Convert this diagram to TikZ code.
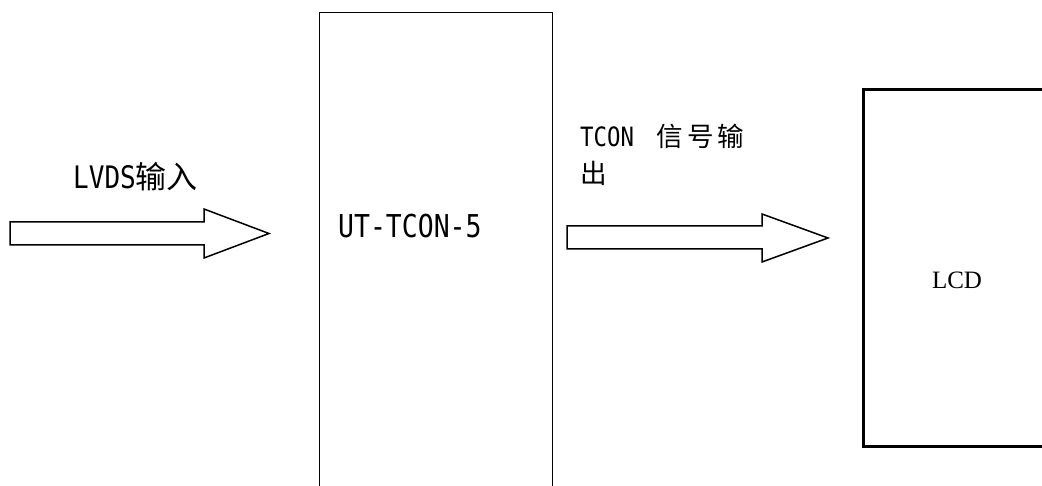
\documentclass[tikz,border=0pt]{standalone}
\usepackage{fontspec}
\newfontfamily\latf[FakeStretch=0.84]{DejaVu Sans Mono}
\newfontfamily\cjkf{Noto Sans CJK SC}
\newfontfamily\serf{Liberation Serif}
\begin{document}
\begin{tikzpicture}[x=1pt,y=-1pt,
  blockbox/.style={draw=black,line width=1.2pt,fill=none},
  lcdbox/.style={draw=black,line width=3pt,fill=none},
  blockarrow/.style={draw=black,line width=1.5pt,fill=white,line join=miter},
  lbl/.style={inner sep=0pt,anchor=base west}]
\useasboundingbox (0,0) rectangle (1042,486);
\clip (0,0) rectangle (1042,486);
\fill[white] (0,0) rectangle (1042,486);
% boxes
\node[blockbox,inner sep=0pt,anchor=north west,minimum width=233pt,minimum height=500pt] (tcon) at (319,12) {};
\node[lcdbox,inner sep=0pt,anchor=north west,minimum width=220pt,minimum height=357pt] (lcd) at (862,88) {};
\node[inner sep=0pt] (lcdtxt) at (957,280) {\serf\fontsize{25}{30}\selectfont LCD};
% arrows
\coordinate (ina) at (10,233.5);
\coordinate (inb) at (269,233.5);
\draw[blockarrow] (10,222) -- (204,222) -- (204,209) -- (inb) -- (204,258) -- (204,245) -- (10,245) -- cycle;
\coordinate (outb) at (828,238);
\draw[blockarrow] (567,226) -- (762,226) -- (762,214) -- (outb) -- (762,262) -- (762,249) -- (567,249) -- cycle;
% labels
\node[lbl] (lvds) at (73,189) {\fontsize{31}{36}\selectfont\latf LVDS\cjkf 输入};
\node[lbl] (ut) at (338,238) {\fontsize{31.5}{36}\selectfont\latf UT-TCON-5};
\node[lbl] (sig1) at (580,147) {\fontsize{26.6}{32}\selectfont\latf TCON\hspace{22pt}\cjkf 信\hspace{4.4pt}号\hspace{4.4pt}输};
\node[lbl] (sig2) at (580,184) {\fontsize{26.6}{32}\selectfont\cjkf 出};
\end{tikzpicture}
\end{document}
